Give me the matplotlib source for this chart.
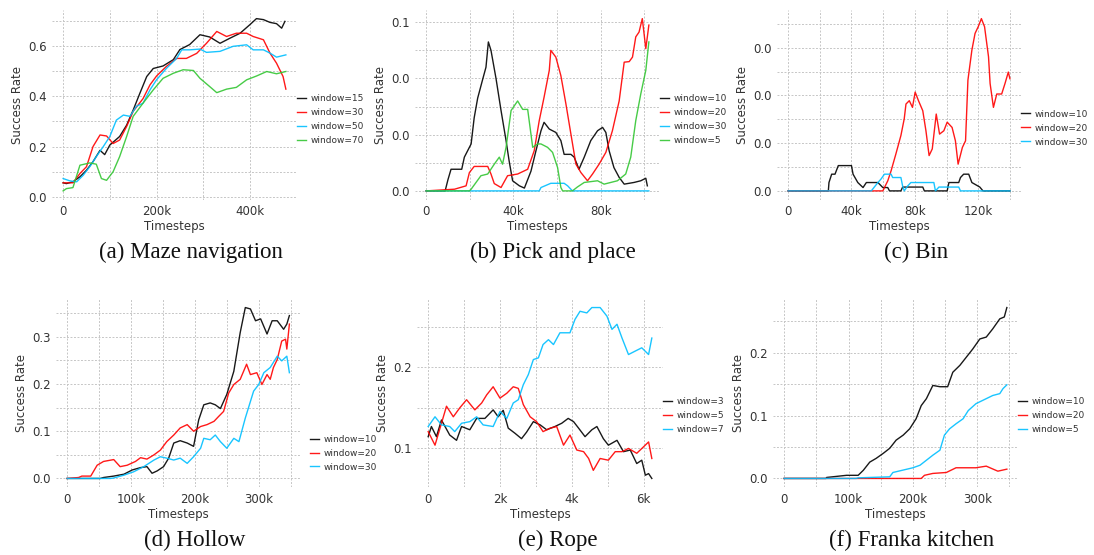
import numpy as np
import matplotlib
matplotlib.use('Agg')
import matplotlib.pyplot as plt
from matplotlib.ticker import MultipleLocator, FuncFormatter, FormatStrFormatter

# ---------------- data (x in thousands of timesteps) ----------------
# (a) Maze navigation
A_X15 = [0,7,21,36,50,64,79,89,100,121,136,150,164,179,193,214,236,250,271,293,314,336,357,379,400,414,429,443,457,468,475]
A_Y15 = [0.056,0.053,0.06,0.08,0.106,0.14,0.185,0.168,0.206,0.24,0.285,0.345,0.41,0.478,0.51,0.52,0.545,0.585,0.605,0.644,0.635,0.61,0.63,0.65,0.684,0.708,0.704,0.693,0.688,0.67,0.697]
A_X30 = [0,21,36,50,64,79,93,107,121,136,150,171,186,200,221,243,264,286,307,329,350,371,393,407,429,443,457,471,477]
A_Y30 = [0.056,0.056,0.093,0.12,0.2,0.246,0.242,0.212,0.226,0.28,0.34,0.39,0.445,0.48,0.518,0.55,0.55,0.57,0.61,0.657,0.637,0.65,0.65,0.637,0.624,0.571,0.531,0.478,0.428]
A_X50 = [0,14,29,43,57,71,86,100,114,129,143,157,171,186,200,221,243,254,271,293,307,336,364,393,407,429,443,457,477]
A_Y50 = [0.073,0.064,0.06,0.086,0.12,0.16,0.2,0.24,0.305,0.325,0.32,0.36,0.372,0.425,0.465,0.51,0.55,0.584,0.584,0.587,0.574,0.578,0.598,0.604,0.584,0.584,0.571,0.555,0.564]
A_X70 = [0,7,21,36,57,71,82,93,107,121,136,150,171,193,214,236,257,279,293,314,329,350,371,393,414,436,457,477]
A_Y70 = [0.024,0.033,0.037,0.126,0.135,0.13,0.073,0.066,0.1,0.16,0.24,0.32,0.372,0.425,0.471,0.491,0.505,0.502,0.471,0.438,0.414,0.428,0.435,0.465,0.48,0.498,0.489,0.498]

# (b) Pick and place
B_X10 = [0,8.7,10,11.4,16.3,17.5,20.6,22,23.6,26,27.4,28.5,29.7,32,34.3,36.6,38,39.6,42.7,45,46.5,48,50.3,52.6,54,56.4,59.4,61.7,63.2,66.3,67.8,70,72.4,75.4,78.5,80.8,82.3,83.8,86,88.4,90.7,95.2,98.3,100.6,101.3]
B_Y10 = [0,0,0.004,0.0077,0.0077,0.012,0.0167,0.026,0.033,0.04,0.044,0.053,0.05,0.04,0.0286,0.0179,0.0107,0.0036,0.0018,0.001,0.004,0.007,0.0143,0.0214,0.0244,0.022,0.0208,0.0179,0.013,0.013,0.012,0.0077,0.012,0.0179,0.0214,0.0226,0.0208,0.0143,0.0083,0.0048,0.0024,0.003,0.0036,0.0045,0.0018]
B_X20 = [0,13,18.3,19.8,22,28.2,29.7,31.2,34.3,37.3,41.9,46.5,49.5,51.8,54,56.4,57.1,59.4,61.7,64,66.3,68.6,70.9,73.9,76.2,79.2,82.3,85.3,88.4,90.7,93,94.5,96,97.5,99,100.6,102]
B_Y20 = [0,0.0006,0.0018,0.0065,0.0087,0.0087,0.006,0.0026,0.0012,0.0054,0.006,0.0077,0.0143,0.025,0.0333,0.0429,0.05,0.0476,0.041,0.031,0.0202,0.0095,0.0065,0.0036,0.006,0.0095,0.0137,0.0214,0.032,0.0458,0.046,0.0476,0.0548,0.0565,0.0613,0.0506,0.059]
B_X30 = [0,51.8,52.6,57.1,63.2,64.8,67,102]
B_Y30 = [0,0,0.0012,0.0027,0.0027,0.0018,0,0]
B_X5 = [0,19.8,20.6,25.1,28.2,31.2,33.5,35,36.6,38.9,41.9,44.2,46.5,48.8,51,52.6,55.6,57.9,60.2,61.7,62.5,67,69.3,72.4,78.5,81.5,87.6,91.4,93.7,96,98.3,100.6,102]
B_Y5 = [0,0,0.0006,0.0054,0.006,0.0095,0.012,0.0095,0.0155,0.0286,0.032,0.029,0.029,0.0155,0.0167,0.0167,0.0155,0.0137,0.0083,0.0012,0,0,0.0014,0.003,0.0036,0.0024,0.0036,0.006,0.012,0.025,0.0345,0.0429,0.053]

# (c) Bin
C_X10 = [0,25.4,25.8,27.5,29.6,31.7,40,41,44,47.3,49.4,56.7,59.8,62.9,64,71.2,72.3,85,86,100.4,101.5,107.7,108.8,110.8,114,116,121,123,140]
C_Y10 = [0,0,0.00175,0.0035,0.0035,0.0053,0.0053,0.0035,0.00175,0.0007,0.00175,0.00175,0.0007,0.0007,0,0,0.0008,0.0008,0,0,0.00175,0.00175,0.0028,0.0035,0.0035,0.00175,0.0008,0,0]
C_X20 = [0,59.8,62.9,65,68,71.2,73.3,74.4,76.5,78.5,80.2,82.3,85,87,89,91,93.5,95.6,98.3,100.4,103.5,105.6,107.3,110,112,113.5,116,118,120,122,124,126.5,127.5,129.6,131.7,134.8,136.9,139,140]
C_Y20 = [0,0,0.0021,0.0042,0.0077,0.0116,0.0151,0.0182,0.0189,0.0175,0.0207,0.0189,0.0168,0.0126,0.0074,0.0088,0.0161,0.0119,0.0126,0.0144,0.0133,0.0105,0.0056,0.0091,0.0105,0.0232,0.0295,0.033,0.0344,0.0361,0.0344,0.0281,0.0225,0.0175,0.0203,0.0203,0.0225,0.0249,0.0235]
C_X30 = [0,52.5,56.7,58.7,60.8,65,66,71.2,72.3,73.3,75.4,77.5,92,93,95.2,107.7,108.8,140]
C_Y30 = [0,0,0.00175,0.0025,0.0035,0.0035,0.0028,0.0028,0.001,0,0.001,0.00175,0.00175,0,0.0008,0.0008,0,0]

# (d) Hollow
D_X10 = [0,52,57,73,89,102,115,125,133,141,151,159,167,177,188,198,206,214,224,232,240,250,261,271,279,287,295,303,313,321,329,339,344,348]
D_Y10 = [0,0,0.002,0.005,0.009,0.018,0.023,0.025,0.011,0.016,0.025,0.043,0.075,0.08,0.075,0.068,0.124,0.156,0.16,0.156,0.148,0.178,0.227,0.309,0.362,0.359,0.334,0.338,0.306,0.334,0.334,0.316,0.327,0.345]
D_X20 = [0,18,23,37,47,57,73,83,94,107,115,125,136,146,156,167,177,188,198,209,219,230,237,245,253,261,271,281,287,297,305,313,318,323,329,336,342,344,348]
D_Y20 = [0,0.002,0.005,0.005,0.028,0.036,0.04,0.025,0.028,0.036,0.044,0.041,0.05,0.06,0.078,0.092,0.107,0.114,0.1,0.11,0.114,0.121,0.131,0.142,0.181,0.199,0.21,0.242,0.22,0.224,0.199,0.22,0.21,0.235,0.252,0.291,0.295,0.274,0.327]
D_X30 = [0,68,73,89,104,120,136,146,156,167,177,188,198,209,214,224,232,240,250,261,269,279,292,300,308,318,329,336,344,348]
D_Y30 = [0,0,0.001,0.007,0.014,0.025,0.039,0.046,0.043,0.039,0.043,0.032,0.046,0.064,0.085,0.082,0.092,0.078,0.064,0.085,0.078,0.128,0.185,0.199,0.224,0.235,0.259,0.249,0.259,0.224]

# (e) Rope
E_X3 = [0,0.09,0.23,0.37,0.6,0.79,0.93,1.16,1.35,1.58,1.81,1.95,2.09,2.23,2.42,2.6,2.74,2.93,3.12,3.3,3.53,3.72,3.9,4.05,4.19,4.37,4.56,4.7,4.88,5.02,5.26,5.44,5.63,5.81,5.95,6.05,6.14,6.23]
E_Y3 = [0.1145,0.127,0.1145,0.135,0.1165,0.11,0.127,0.123,0.137,0.137,0.1475,0.139,0.147,0.125,0.1186,0.112,0.12,0.133,0.129,0.123,0.127,0.131,0.137,0.133,0.125,0.1145,0.123,0.127,0.112,0.104,0.11,0.096,0.098,0.0814,0.0855,0.067,0.069,0.063]
E_X5 = [0,0.19,0.33,0.51,0.7,0.88,1.07,1.3,1.49,1.63,1.81,2.0,2.19,2.37,2.51,2.65,2.84,3.02,3.2,3.4,3.58,3.77,3.95,4.14,4.33,4.47,4.6,4.79,5.02,5.21,5.4,5.58,5.81,6.0,6.14,6.23]
E_Y5 = [0.1207,0.104,0.125,0.152,0.139,0.15,0.16,0.1475,0.156,0.166,0.176,0.162,0.168,0.176,0.174,0.154,0.139,0.133,0.1207,0.125,0.127,0.104,0.1165,0.098,0.096,0.0876,0.073,0.0876,0.0855,0.096,0.096,0.1,0.094,0.102,0.108,0.0876]
E_X7 = [0,0.19,0.37,0.6,0.74,0.93,1.16,1.35,1.53,1.81,2.0,2.19,2.37,2.51,2.65,2.79,2.93,3.07,3.2,3.35,3.49,3.67,3.95,4.09,4.23,4.42,4.56,4.79,4.98,5.12,5.26,5.4,5.58,5.77,5.95,6.14,6.23]
E_Y7 = [0.127,0.139,0.129,0.127,0.1207,0.131,0.133,0.139,0.129,0.127,0.1455,0.137,0.156,0.16,0.1785,0.191,0.2095,0.2116,0.228,0.234,0.228,0.2425,0.2425,0.259,0.269,0.267,0.2736,0.2736,0.263,0.2467,0.253,0.236,0.2157,0.22,0.224,0.2157,0.236]

# (f) Franka kitchen
F_X10 = [0,65,66,97,115,123,133,143,154,164,174,185,195,205,213,221,231,242,254,262,273,283,293,304,314,324,335,342,346]
F_Y10 = [0,0,0.0016,0.005,0.005,0.013,0.026,0.032,0.04,0.048,0.061,0.069,0.079,0.095,0.116,0.127,0.148,0.146,0.146,0.169,0.18,0.193,0.206,0.222,0.225,0.238,0.254,0.257,0.272]
F_X20 = [0,213,218,231,252,267,298,314,322,332,346]
F_Y20 = [0,0,0.005,0.008,0.0095,0.017,0.017,0.0196,0.016,0.0116,0.0148]
F_X5 = [0,112,115,164,169,200,211,221,231,242,249,257,267,278,286,298,314,324,335,340,346]
F_Y5 = [0,0,0.001,0.0026,0.0095,0.017,0.021,0.029,0.037,0.045,0.069,0.079,0.087,0.095,0.108,0.119,0.127,0.132,0.135,0.143,0.149]

CAPTIONS = ["(a) Maze navigation", "(b) Pick and place", "(c) Bin",
            "(d) Hollow", "(e) Rope", "(f) Franka kitchen"]

# ---------------- styling ----------------
BLACK, RED, BLUE, GREEN = '#000000', '#ff0000', '#00bfff', '#33c633'
TXT = '#333333'
plt.rcParams['font.family'] = ['DejaVu Sans']

W, H = 1094, 555
fig = plt.figure(figsize=(W / 100, H / 100), dpi=100)

def k_fmt(v, pos):
    if abs(v) < 1e-9:
        return '0'
    return f'{v / 1000:g}k'

panels = [
    dict(box=(52, 10, 297, 199.5),
         series=[(A_X15, A_Y15, BLACK, 'window=15'), (A_X30, A_Y30, RED, 'window=30'),
                 (A_X50, A_Y50, BLUE, 'window=50'), (A_X70, A_Y70, GREEN, 'window=70')],
         xt=(200000, 100000), yt=(0.2, 0.1), leg=(1.0, 0.42), cap=(191, 252)),
    dict(box=(415, 10, 660, 199.5),
         series=[(B_X10, B_Y10, BLACK, 'window=10'), (B_X20, B_Y20, RED, 'window=20'),
                 (B_X30, B_Y30, BLUE, 'window=30'), (B_X5, B_Y5, GREEN, 'window=5')],
         xt=(40000, 20000), yt=(0.02, 0.01), leg=(1.0, 0.42), cap=(553, 252)),
    dict(box=(777, 10, 1021, 199.5),
         series=[(C_X10, C_Y10, BLACK, 'window=10'), (C_X20, C_Y20, RED, 'window=20'),
                 (C_X30, C_Y30, BLUE, 'window=30')],
         xt=(40000, 20000), yt=(0.01, 0.005), leg=(1.0, 0.377), cap=(916, 252)),
    dict(box=(56, 299, 300.5, 487),
         series=[(D_X10, D_Y10, BLACK, 'window=10'), (D_X20, D_Y20, RED, 'window=20'),
                 (D_X30, D_Y30, BLUE, 'window=30')],
         xt=(100000, 50000), yt=(0.1, 0.05), leg=(1.039, 0.18), cap=(195, 540)),
    dict(box=(417, 299, 663, 487),
         series=[(E_X3, E_Y3, BLACK, 'window=3'), (E_X5, E_Y5, RED, 'window=5'),
                 (E_X7, E_Y7, BLUE, 'window=7')],
         xt=(2000, 1000), yt=(0.1, 0.05), leg=(1.0, 0.378), cap=(558, 540)),
    dict(box=(773, 299, 1018, 487),
         series=[(F_X10, F_Y10, BLACK, 'window=10'), (F_X20, F_Y20, RED, 'window=20'),
                 (F_X5, F_Y5, BLUE, 'window=5')],
         xt=(100000, 50000), yt=(0.1, 0.05), leg=(1.0, 0.378), cap=(912, 540)),
]

for p, caption in zip(panels, CAPTIONS):
    l, t, r, b = p['box']
    ax = fig.add_axes([l / W, 1 - b / H, (r - l) / W, (b - t) / H])
    for xs, ys, c, lab in p['series']:
        ax.plot(np.asarray(xs) * 1000, ys, color=c, lw=1.0, alpha=0.9, label=lab)
    ax.margins(0.05)
    for s in ax.spines.values():
        s.set_visible(False)
    ax.xaxis.set_major_locator(MultipleLocator(p['xt'][0]))
    ax.xaxis.set_minor_locator(MultipleLocator(p['xt'][1]))
    ax.yaxis.set_major_locator(MultipleLocator(p['yt'][0]))
    ax.yaxis.set_minor_locator(MultipleLocator(p['yt'][1]))
    ax.xaxis.set_major_formatter(FuncFormatter(k_fmt))
    ax.yaxis.set_major_formatter(FormatStrFormatter('%.1f'))
    ax.tick_params(which='both', length=0, labelsize=8.5, labelcolor=TXT, pad=4)
    ax.grid(which='both', color='#c6c6c6', linestyle=(0, (2.0, 1.6)), linewidth=0.7)
    ax.set_axisbelow(True)
    ax.set_xlabel('Timesteps', fontsize=8.5, color=TXT, labelpad=1.5)
    ax.set_ylabel('Success Rate', fontsize=8.5, color=TXT, labelpad=3)
    leg = ax.legend(loc='center left', bbox_to_anchor=p['leg'], frameon=False,
                    fontsize=6.5, handlelength=1.0, handletextpad=0.5,
                    borderpad=0, borderaxespad=0, labelspacing=0.55)
    for txt in leg.get_texts():
        txt.set_color(TXT)
    fig.text(p['cap'][0] / W, 1 - p['cap'][1] / H, caption, ha='center', va='center',
             fontsize=16.5, family=['Liberation Serif', 'DejaVu Serif'], color='#111111')

fig.savefig('out.png', dpi=100)
